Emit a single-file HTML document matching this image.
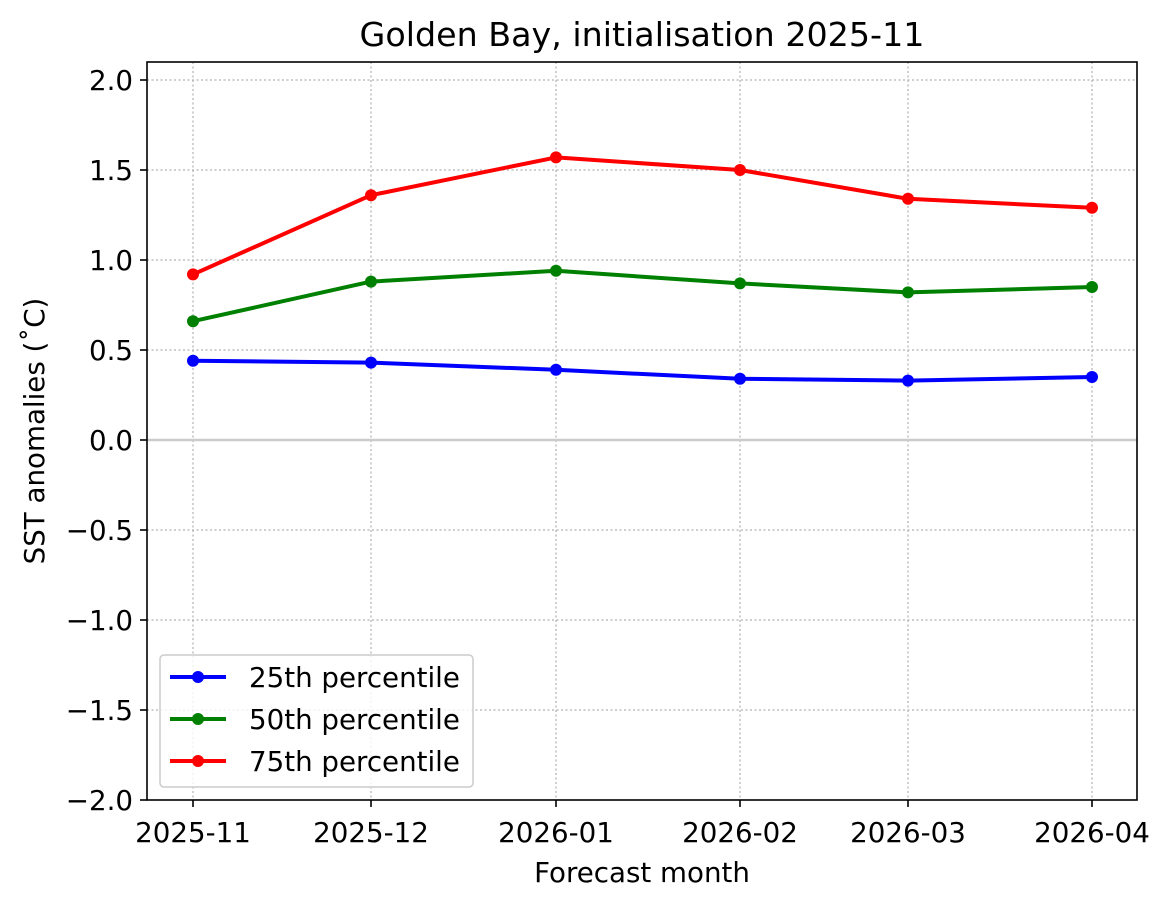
<!DOCTYPE html>
<html><head><meta charset="utf-8"><style>body{margin:0;background:#fff}svg{display:block;font-family:"DejaVu Sans","Liberation Sans",sans-serif}</style></head>
<body>
<svg width="1171" height="908" viewBox="0 0 1171 908" xmlns="http://www.w3.org/2000/svg">
<rect width="1171" height="908" fill="#fff"/>
<g stroke="#b0b0b0" stroke-width="1.2" stroke-dasharray="2,2.5">
<line x1="193" y1="62" x2="193" y2="800"/><line x1="371" y1="62" x2="371" y2="800"/><line x1="556" y1="62" x2="556" y2="800"/><line x1="740" y1="62" x2="740" y2="800"/><line x1="908" y1="62" x2="908" y2="800"/><line x1="1092" y1="62" x2="1092" y2="800"/>
<line x1="147" y1="80" x2="1137" y2="80"/><line x1="147" y1="170" x2="1137" y2="170"/><line x1="147" y1="260" x2="1137" y2="260"/><line x1="147" y1="350" x2="1137" y2="350"/><line x1="147" y1="530" x2="1137" y2="530"/><line x1="147" y1="620" x2="1137" y2="620"/><line x1="147" y1="710" x2="1137" y2="710"/>
</g>
<line x1="147" y1="440" x2="1137" y2="440" stroke="#cccccc" stroke-width="2.5"/>
<g fill="none" stroke-width="4" stroke-linejoin="round">
<polyline stroke="#0000ff" points="193,360.8 371,362.6 556,369.8 740,378.8 908,380.6 1092,377"/>
<polyline stroke="#008000" points="193,321.2 371,281.6 556,270.8 740,283.4 908,292.4 1092,287"/>
<polyline stroke="#ff0000" points="193,274.4 371,195.2 556,157.4 740,170 908,198.8 1092,207.8"/>
</g>
<g fill="#0000ff"><circle cx="193" cy="360.8" r="6"/><circle cx="371" cy="362.6" r="6"/><circle cx="556" cy="369.8" r="6"/><circle cx="740" cy="378.8" r="6"/><circle cx="908" cy="380.6" r="6"/><circle cx="1092" cy="377" r="6"/></g>
<g fill="#008000"><circle cx="193" cy="321.2" r="6"/><circle cx="371" cy="281.6" r="6"/><circle cx="556" cy="270.8" r="6"/><circle cx="740" cy="283.4" r="6"/><circle cx="908" cy="292.4" r="6"/><circle cx="1092" cy="287" r="6"/></g>
<g fill="#ff0000"><circle cx="193" cy="274.4" r="6"/><circle cx="371" cy="195.2" r="6"/><circle cx="556" cy="157.4" r="6"/><circle cx="740" cy="170" r="6"/><circle cx="908" cy="198.8" r="6"/><circle cx="1092" cy="207.8" r="6"/></g>
<rect x="147" y="62" width="990" height="738" fill="none" stroke="#000" stroke-width="1.6"/>
<g stroke="#000" stroke-width="1.6">
<line x1="193" y1="800" x2="193" y2="807"/><line x1="371" y1="800" x2="371" y2="807"/><line x1="556" y1="800" x2="556" y2="807"/><line x1="740" y1="800" x2="740" y2="807"/><line x1="908" y1="800" x2="908" y2="807"/><line x1="1092" y1="800" x2="1092" y2="807"/>
<line x1="140" y1="80" x2="147" y2="80"/><line x1="140" y1="170" x2="147" y2="170"/><line x1="140" y1="260" x2="147" y2="260"/><line x1="140" y1="350" x2="147" y2="350"/><line x1="140" y1="440" x2="147" y2="440"/><line x1="140" y1="530" x2="147" y2="530"/><line x1="140" y1="620" x2="147" y2="620"/><line x1="140" y1="710" x2="147" y2="710"/><line x1="140" y1="800" x2="147" y2="800"/>
</g>
<g font-size="27.7" fill="#000" text-anchor="end">
<text x="133" y="90">2.0</text><text x="133" y="180">1.5</text><text x="133" y="270">1.0</text><text x="133" y="360">0.5</text><text x="133" y="450">0.0</text><text x="133" y="540">−0.5</text><text x="133" y="630">−1.0</text><text x="133" y="720">−1.5</text><text x="133" y="810">−2.0</text>
</g>
<g font-size="27.7" fill="#000" text-anchor="middle">
<text x="193" y="842">2025-11</text><text x="371" y="842">2025-12</text><text x="556" y="842">2026-01</text><text x="740" y="842">2026-02</text><text x="908" y="842">2026-03</text><text x="1092" y="842">2026-04</text>
<text x="642" y="882">Forecast month</text>
<text x="642" y="46" font-size="33.3">Golden Bay, initialisation 2025-11</text>
<text transform="translate(44,431) rotate(-90)">SST anomalies (˚C)</text>
</g>
<rect x="160" y="655" width="313" height="132" rx="4" fill="#fff" fill-opacity="0.8" stroke="#cccccc" stroke-width="1.5"/>
<g stroke-width="4"><line x1="170" y1="677" x2="226" y2="677" stroke="#0000ff"/><line x1="170" y1="719" x2="226" y2="719" stroke="#008000"/><line x1="170" y1="761" x2="226" y2="761" stroke="#ff0000"/></g>
<circle cx="198" cy="677" r="6" fill="#0000ff"/><circle cx="198" cy="719" r="6" fill="#008000"/><circle cx="198" cy="761" r="6" fill="#ff0000"/>
<g font-size="27.7" fill="#000"><text x="249" y="687">25th percentile</text><text x="249" y="729">50th percentile</text><text x="249" y="771">75th percentile</text></g>
</svg>
</body></html>
